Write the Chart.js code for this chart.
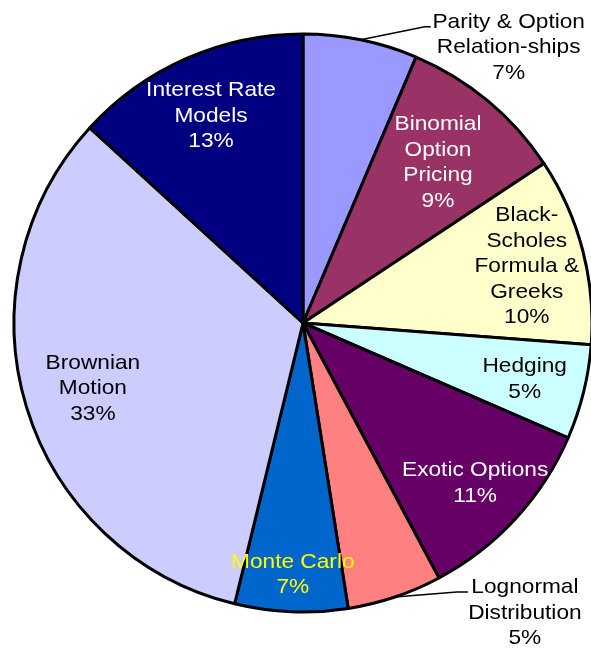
<!DOCTYPE html>
<html>
<head>
<meta charset="utf-8">
<script src="https://cdn.jsdelivr.net/npm/chart.js@4/dist/chart.umd.min.js"></script>
<style>
  html, body { margin: 0; padding: 0; background: #ffffff; }
  #wrap { width: 591px; height: 648px; }
</style>
</head>
<body>
<div id="wrap"><canvas id="c" width="591" height="648"></canvas></div>
<script>
// ---- data ----
const categories = [
  'Parity & Option Relation-ships',
  'Binomial Option Pricing',
  'Black-Scholes Formula & Greeks',
  'Hedging',
  'Exotic Options',
  'Lognormal Distribution',
  'Monte Carlo',
  'Brownian Motion',
  'Interest Rate Models'
];
const values = [6.4, 9.3, 10.5, 5.3, 10.7, 5.3, 6.3, 33.0, 13.2];
const pctLabels = ['7%', '9%', '10%', '5%', '11%', '5%', '7%', '33%', '13%'];
const labelLines = [
  ['Parity & Option', 'Relation-ships'],
  ['Binomial', 'Option', 'Pricing'],
  ['Black-', 'Scholes', 'Formula &', 'Greeks'],
  ['Hedging'],
  ['Exotic Options'],
  ['Lognormal', 'Distribution'],
  ['Monte Carlo'],
  ['Brownian', 'Motion'],
  ['Interest Rate', 'Models']
];

// ---- styles ----
const fillColors = ['#9999FF', '#993366', '#FFFFCC', '#CCFFFF', '#660066', '#FF8080', '#0066CC', '#CCCCFF', '#000080'];
const textColors = ['#000000', '#FFFFFF', '#000000', '#000000', '#FFFFFF', '#000000', '#FFFF00', '#000000', '#FFFFFF'];
// inside labels: radial fraction of radius; outside labels: leader offsets
const labelPlace = [
  { outside: true, bend: [64, -13], end: [70, -13], text: [148, 6] },
  { r: 0.73 },
  { r: 0.80 },
  { r: 0.79 },
  { r: 0.81 },
  { outside: true, bend: [62, -5], end: [73, -5], text: [130, 14] },
  { r: 0.865 },
  { r: 0.76 },
  { r: 0.79 }
];
const FONT = '21px "Liberation Sans", Arial, sans-serif';
const LINE_H = 25.5;
const SCALE_X = 1.08;

const labelPlugin = {
  id: 'sliceLabels',
  afterDatasetsDraw(chart) {
    const ctx = chart.ctx;
    const meta = chart.getDatasetMeta(0);
    meta.data.forEach((arc, i) => {
      const p = arc.getProps(['x', 'y', 'startAngle', 'endAngle', 'outerRadius'], true);
      const mid = (p.startAngle + p.endAngle) / 2;
      const lines = labelLines[i].concat([pctLabels[i]]);
      const place = labelPlace[i];
      let cx, cy;
      if (place.outside) {
        const ax = p.x + Math.cos(mid) * p.outerRadius;
        const ay = p.y + Math.sin(mid) * p.outerRadius;
        ctx.save();
        ctx.strokeStyle = '#000000';
        ctx.lineWidth = 1.6;
        ctx.beginPath();
        ctx.moveTo(ax, ay);
        ctx.lineTo(ax + place.bend[0], ay + place.bend[1]);
        ctx.lineTo(ax + place.end[0], ay + place.end[1]);
        ctx.stroke();
        ctx.restore();
        cx = ax + place.text[0];
        cy = ay + place.text[1];
      } else {
        cx = p.x + Math.cos(mid) * p.outerRadius * place.r;
        cy = p.y + Math.sin(mid) * p.outerRadius * place.r;
      }
      ctx.save();
      ctx.font = FONT;
      ctx.fillStyle = textColors[i];
      ctx.textAlign = 'center';
      ctx.textBaseline = 'alphabetic';
      const n = lines.length;
      lines.forEach((t, k) => {
        const by = cy + (k - (n - 1) / 2) * LINE_H + 7.5;
        ctx.save();
        ctx.translate(cx, by);
        ctx.scale(SCALE_X, 1);
        ctx.fillText(t, 0, 0);
        ctx.restore();
      });
      ctx.restore();
    });
  }
};

new Chart(document.getElementById('c'), {
  type: 'pie',
  data: {
    labels: categories,
    datasets: [{
      data: values,
      backgroundColor: fillColors,
      borderColor: '#000000',
      borderWidth: 3,
      borderAlign: 'center',
      hoverOffset: 0
    }]
  },
  options: {
    responsive: false,
    animation: false,
    events: [],
    radius: 289,
    layout: { padding: { left: 15, right: 0, top: 0, bottom: 2 } },
    plugins: {
      legend: { display: false },
      tooltip: { enabled: false }
    }
  },
  plugins: [labelPlugin]
});
</script>
</body>
</html>
